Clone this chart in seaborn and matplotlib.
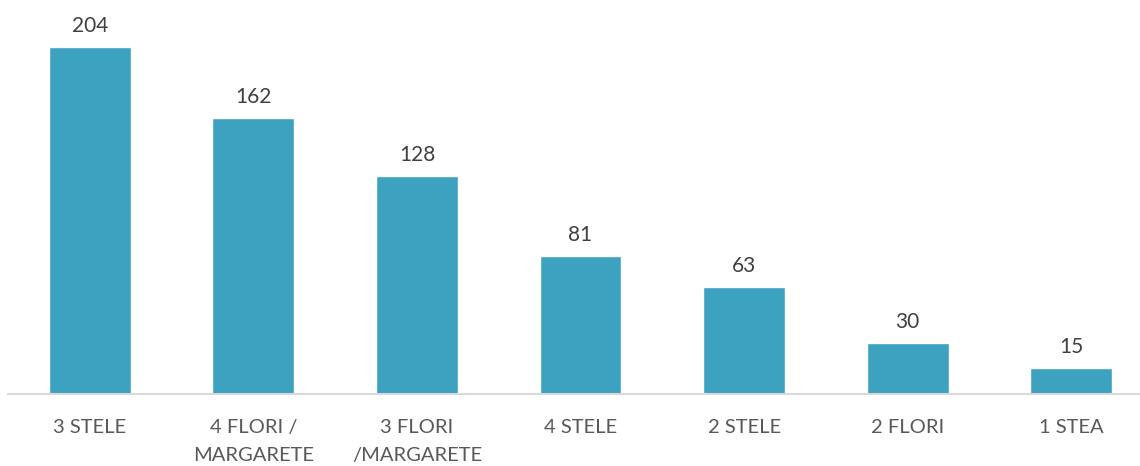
import pandas as pd
import seaborn as sns
import matplotlib.pyplot as plt

categories = ['3 STELE', '4 FLORI /\nMARGARETE', '3 FLORI\n/MARGARETE', '4 STELE',
              '2 STELE', '2 FLORI', '1 STEA']
values = [204, 162, 128, 81, 63, 30, 15]

df = pd.DataFrame({'cat': categories, 'val': values})

sns.set_style('white')
plt.rcParams['font.family'] = ['Lato', 'DejaVu Sans']

fig = plt.figure(figsize=(11.4, 4.66), dpi=100)
ax = fig.add_axes([8 / 1140, 1 - 394 / 466, 1 - 8 / 1140, 390 / 466])

sns.barplot(data=df, x='cat', y='val', color='#3DA1C0', width=0.5,
            saturation=1, ax=ax)

ax.bar_label(ax.containers[0], padding=8, fontsize=15, color='#404040')

ax.set_xlim(-0.5, 6.42)
ax.set_ylim(0, 390 / 1.701)
ax.set_xlabel('')
ax.set_ylabel('')
ax.set_yticks([])
ax.tick_params(axis='x', length=0, pad=18, labelsize=14.5, labelcolor='#595959')
for lbl in ax.get_xticklabels():
    lbl.set_linespacing(1.8)

for s in ['top', 'right', 'left']:
    ax.spines[s].set_visible(False)
ax.spines['bottom'].set_color('#D9D9D9')
ax.spines['bottom'].set_linewidth(1.5)

fig.savefig('out.png', dpi=100)
